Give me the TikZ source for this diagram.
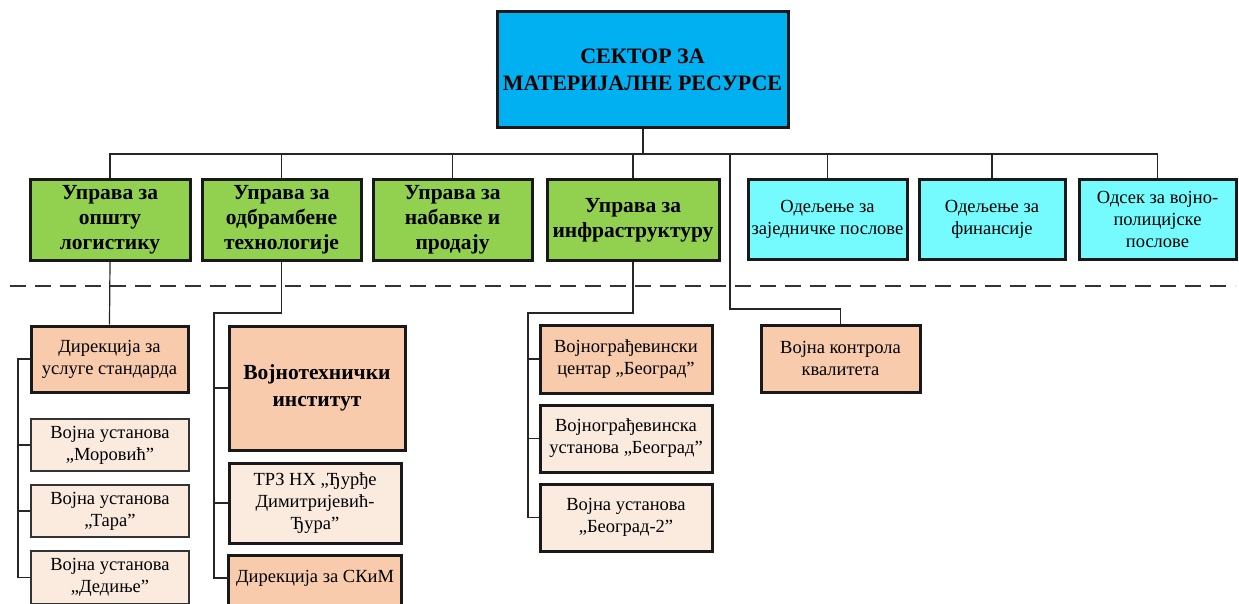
\documentclass[tikz,border=0pt]{standalone}
\usepackage{fontspec}
\setmainfont{Liberation Serif}
\usetikzlibrary{backgrounds}
\definecolor{topblue}{HTML}{00B0F0}
\definecolor{upgreen}{HTML}{92D050}
\definecolor{lcyan}{HTML}{75FBFD}
\definecolor{orng}{HTML}{F8CBAD}
\definecolor{lorng}{HTML}{FBEBDF}
\tikzset{
  box/.style={draw=black!90, line width=3pt, inner sep=0pt, align=center},
  normfont/.style={font=\fontsize{18.5}{22}\selectfont},
  thinbox/.style={draw=black!80, line width=1.5pt, inner sep=0pt, align=center, fill=lorng, normfont},
  green/.style={box, fill=upgreen, font=\bfseries\fontsize{21.5}{25}\selectfont},
  cyanbox/.style={box, fill=lcyan, normfont},
  orbox/.style={box, fill=orng, normfont},
  ltbox/.style={box, fill=lorng, normfont},
  conn/.style={draw=black!85, line width=1.2pt},
}
\begin{document}
\begin{tikzpicture}[x=1pt,y=-1pt]
\useasboundingbox (0,0) rectangle (1239,604);
\begin{scope}
\clip (0,0) rectangle (1239,604);
% top
\node[box, fill=topblue, font=\bfseries\fontsize{22}{27}\selectfont, minimum width=291pt, minimum height=116pt] (top) at (642.5,70) {СЕКТОР ЗА\\МАТЕРИЈАЛНЕ РЕСУРСЕ};
% second level
\node[green, minimum width=160pt, minimum height=80pt] (g1) at (110,220) {Управа за\\општу\\логистику};
\node[green, minimum width=159pt, minimum height=80pt] (g2) at (281.5,220) {Управа за\\одбрамбене\\технологије};
\node[green, minimum width=159pt, minimum height=80pt] (g3) at (452.5,220) {Управа за\\набавке и\\продају};
\node[green, minimum width=172pt, minimum height=80pt] (g4) at (633,220) {Управа за\\инфраструктуру};
\node[cyanbox, minimum width=159pt, minimum height=79pt] (c5) at (827.5,219.5) {Одељење за\\заједничке послове};
\node[cyanbox, minimum width=146pt, minimum height=79pt] (c6) at (992,219.5) {Одељење за\\финансије};
\node[cyanbox, minimum width=157pt, minimum height=79pt] (c7) at (1157.5,219.5) {Одсек за војно-\\полицијске\\послове};
% bus
\coordinate (busy) at (0,154);
\draw[conn, line width=2pt] (top.south) -- (top.south |- busy);
\draw[conn] (g1.north) -- (g1.north |- busy) -- (c7.north |- busy) -- (c7.north);
\foreach \n in {g2,g3,g4,c5,c6} \draw[conn] (\n.north) -- (\n.north |- busy);
% dashed separator
\draw[black!80, line width=1.2pt, dash pattern=on 16pt off 9pt] (10,286) -- (1235,286);
% third level: logistics
\node[orbox, minimum width=157pt, minimum height=66pt] (d1) at (109.5,359) {Дирекција за\\услуге стандарда};
\node[thinbox, minimum width=158pt, minimum height=52pt] (mor) at (110,445) {Војна установа\\„Моровић”};
\node[thinbox, minimum width=158pt, minimum height=52pt] (tara) at (110,511) {Војна установа\\„Тара”};
\node[thinbox, minimum width=158pt, minimum height=53pt] (ded) at (110,577.5) {Војна установа\\„Дедиње”};
\coordinate (b1) at (18,0);
\draw[conn] (g1.south) -- (d1.north);
\draw[conn] (d1.west) -- (d1.west -| b1) -- (ded.west -| b1) -- (ded.west);
\draw[conn] (mor.west) -- (mor.west -| b1);
\draw[conn] (tara.west) -- (tara.west -| b1);
% third level: defence technologies
\node[orbox, font=\bfseries\fontsize{21.5}{27}\selectfont, minimum width=176pt, minimum height=124pt] (vti) at (317,388) {Војнотехнички\\институт};
\node[ltbox, minimum width=172pt, minimum height=80pt] (trz) at (315,503) {ТРЗ НХ „Ђурђе\\Димитријевић-\\Ђура”};
\node[normfont, minimum width=172pt, minimum height=44pt, inner sep=0pt] (skim) at (315,578) {Дирекција за СКиМ};
\begin{scope}[on background layer]
\draw[box, fill=orng] (skim.north west) rectangle ([yshift=-30pt]skim.south east);
\end{scope}
\coordinate (b2) at (214,313);
\draw[conn] (g2.south) |- (b2) |- (skim.west);
\draw[conn] (vti.west) -- (vti.west -| b2);
\draw[conn] (trz.west) -- (trz.west -| b2);
% third level: infrastructure
\node[orbox, minimum width=172pt, minimum height=68pt] (cen) at (626,359) {Војнограђевински\\центар „Београд”};
\node[ltbox, minimum width=172pt, minimum height=67pt] (ust) at (626,438.5) {Војнограђевинска\\установа „Београд”};
\node[ltbox, minimum width=172pt, minimum height=67pt] (bg2) at (626,517.5) {Војна установа\\„Београд-2”};
\coordinate (b4) at (528,313);
\draw[conn] (g4.south) |- (b4) |- (bg2.west);
\draw[conn] (cen.west) -- (cen.west -| b4);
\draw[conn] (ust.west) -- (ust.west -| b4);
% quality control
\node[orbox, minimum width=159pt, minimum height=67pt] (kval) at (840.5,358.5) {Војна контрола\\квалитета};
\coordinate (kv) at (730,309);
\draw[conn] (kv |- busy) -- (kv) -| (kval.north);
\end{scope}
\end{tikzpicture}
\end{document}
